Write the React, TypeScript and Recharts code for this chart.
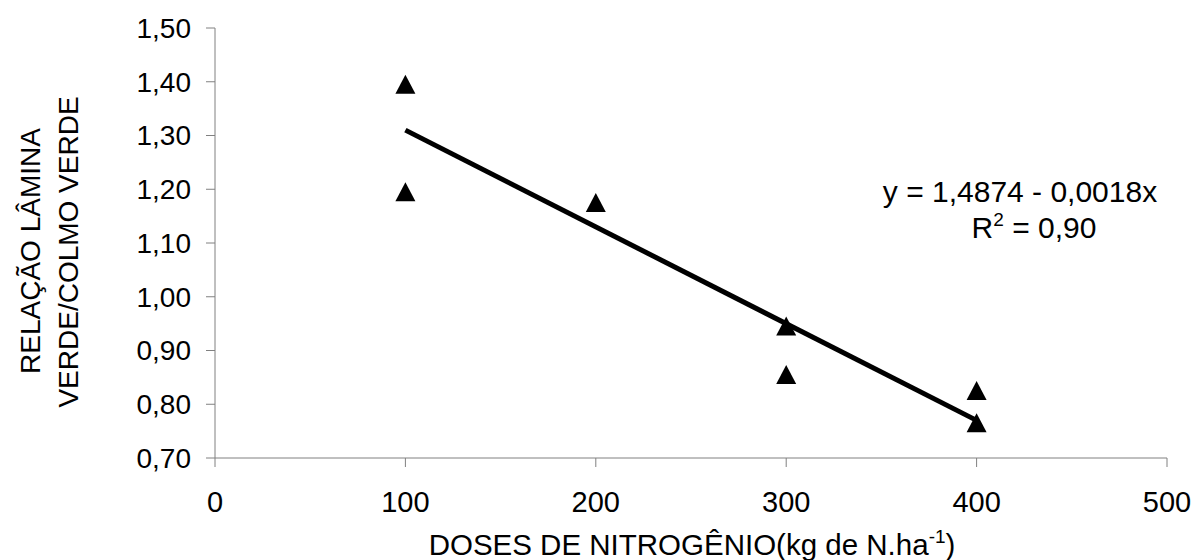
import { ScatterChart, Scatter, XAxis, YAxis } from 'recharts'

// Data
const doses = [100, 100, 200, 300, 300, 400, 400]
const relacao = [1.39, 1.19, 1.17, 0.94, 0.85, 0.82, 0.76]

// Fitted line, end points as drawn
const trendDoses = [100, 400]
const trendRelacao = [1.31, 0.77]

const xTicks = [0, 100, 200, 300, 400, 500]
const yTicks = [0.7, 0.8, 0.9, 1.0, 1.1, 1.2, 1.3, 1.4, 1.5]

const equation = 'y = 1,4874 - 0,0018x'
const r2Value = '0,90'

const FONT = '"Liberation Sans", Arial, sans-serif'
const AXIS = '#808080'

const points = doses.map((x, i) => ({ x, y: relacao[i] }))
const trend = trendDoses.map((x, i) => ({ x, y: trendRelacao[i] }))

const fmt = (v: number) => v.toFixed(2).replace('.', ',')

// filled triangle marker, centroid on the point
function Triangle(props: any) {
  const { cx, cy } = props
  if (cx == null || cy == null) return <g />
  const w = 10
  return (
    <path
      d={`M${cx},${cy - 12.5} L${cx + w},${cy + 6.5} L${cx - w},${cy + 6.5} Z`}
      fill="#000"
    />
  )
}

export default function App() {
  return (
    <div style={{ position: 'absolute', left: 0, top: 0, width: 1193, height: 560, background: '#fff' }}>
      <ScatterChart width={1193} height={560} margin={{ top: 28, right: 26, bottom: 42, left: 0 }}>
        <XAxis
          type="number"
          dataKey="x"
          domain={[0, 500]}
          ticks={xTicks}
          height={60}
          tickSize={9}
          tickMargin={24}
          tick={{ fill: '#000', fontSize: 29, fontFamily: FONT }}
          axisLine={{ stroke: AXIS }}
          tickLine={{ stroke: AXIS }}
        />
        <YAxis
          type="number"
          dataKey="y"
          domain={[0.7, 1.5]}
          ticks={yTicks}
          width={215}
          tickSize={9}
          tickMargin={15}
          tickFormatter={fmt}
          tick={{ fill: '#000', fontSize: 28, fontFamily: FONT }}
          axisLine={{ stroke: AXIS }}
          tickLine={{ stroke: AXIS }}
        />
        <Scatter data={points} shape={Triangle} isAnimationActive={false} />
        <Scatter
          data={trend}
          line={{ stroke: '#000', strokeWidth: 5 }}
          shape={() => <g />}
          isAnimationActive={false}
        />
      </ScatterChart>

      <svg
        width={1193}
        height={560}
        style={{ position: 'absolute', left: 0, top: 0, pointerEvents: 'none' }}
        fontFamily={FONT}
        fill="#000"
      >
        <g fontSize={28}>
          <text x={40} y={251} textAnchor="middle" transform="rotate(-90 40 251)">
            RELAÇÃO LÂMINA
          </text>
          <text x={78} y={252} textAnchor="middle" transform="rotate(-90 78 252)">
            VERDE/COLMO VERDE
          </text>
        </g>
        <text x={692} y={555} textAnchor="middle" fontSize={29.5}>
          DOSES DE NITROGÊNIO(kg de N.ha
          <tspan dy={-12} fontSize={19}>-1</tspan>
          <tspan dy={12}>)</tspan>
        </text>
        <g fontSize={30}>
          <text x={1020} y={202} textAnchor="middle">
            {equation}
          </text>
          <text x={1034} y={238} textAnchor="middle">
            R<tspan dy={-12} fontSize={19}>2</tspan>
            <tspan dy={12}> = {r2Value}</tspan>
          </text>
        </g>
      </svg>
    </div>
  )
}
